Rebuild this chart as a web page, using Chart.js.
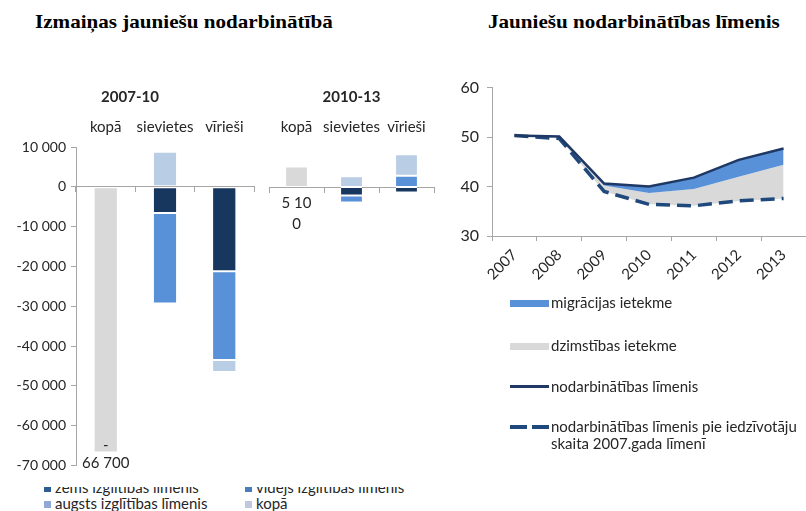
<!DOCTYPE html>
<html>
<head>
<meta charset="utf-8">
<script src="https://cdn.jsdelivr.net/npm/chart.js@4.4.0/dist/chart.umd.min.js"></script>
<style>
  body { margin:0; width:806px; height:511px; background:#fff; position:relative; overflow:hidden;
         font-family:Lato, "Noto Sans", sans-serif; color:#262626; }
  .title { position:absolute; top:11px; font:bold 19px "Liberation Serif", "Times New Roman", serif; color:#000;
           white-space:nowrap; transform:scaleX(1.11); transform-origin:left top; }
  canvas { position:absolute; }
  .leg { position:absolute; white-space:nowrap; font-size:15px; line-height:17px; }
  .sw { position:absolute; }
  #barLegend { position:absolute; left:0; top:487px; width:430px; height:24px; overflow:hidden; }
  #barLegend .row { position:absolute; white-space:nowrap; font-size:15px; line-height:16px; }
  #barLegend .sq { display:inline-block; width:7px; height:7px; margin-right:4px; vertical-align:1px; }
</style>
</head>
<body>
<div class="title" style="left:35px">Izmaiņas jauniešu nodarbinātībā</div>
<div class="title" style="left:488px">Jauniešu nodarbinātības līmenis</div>

<canvas id="bar1" width="258" height="399" style="left:0;top:80px"></canvas>
<canvas id="bar2" width="180" height="399" style="left:262px;top:80px"></canvas>
<canvas id="line" width="366" height="211" style="left:440px;top:70px"></canvas>

<div id="barLegend"></div>
<div id="lineLegend"></div>

<script>
// ── Data: bar panels ──────────────────────────────────────────
const barCategories = ['kopā', 'sievietes', 'vīrieši'];
const barPeriods    = ['2007-10', '2010-13'];
const barSeries     = ['zems izglītības līmenis', 'vidējs izglītības līmenis', 'augsts izglītības līmenis', 'kopā'];
const barTicks      = [10000, 0, -10000, -20000, -30000, -40000, -50000, -60000, -70000];

// 2007-10
const zems0710   = [null,  -6600, -21200];
const videjs0710 = [null, -22700, -22300];
const augsts0710 = [null,   8800,  -3000];
const kopa0710   = [-66700, null,   null];
// 2010-13
const zems1013   = [null, -2100, -1400];
const videjs1013 = [null, -1800,  2800];
const augsts1013 = [null,  2700,  5400];
const kopa1013   = [5100,  null,  null];

const kopaLabel0710 = ['-', '66 700'];
const kopaLabel1013 = ['5 10', '0'];

// ── Data: line panel ──────────────────────────────────────────
const years          = ['2007', '2008', '2009', '2010', '2011', '2012', '2013'];
const lvlActual      = [50.3, 50.1, 40.6, 40.0, 41.8, 45.4, 47.7];
const lvlNoMigration = [50.3, 50.1, 40.2, 38.7, 39.5, 42.0, 44.4];
const lvl2007Pop     = [50.3, 49.7, 39.0, 36.4, 36.1, 37.1, 37.6];
const lineTicks      = [30, 40, 50, 60];
const lineSeries     = ['migrācijas ietekme', 'dzimstības ietekme', 'nodarbinātības līmenis',
                        'nodarbinātības līmenis pie iedzīvotāju skaita 2007.gada līmenī'];

// ── Colours ───────────────────────────────────────────────────
const NAVY   = '#17375e';
const MID    = '#5891d8';
const LIGHT  = '#b9cde5';
const GREY   = '#d9d9d9';
const AXIS   = '#a6a6a6';
const TEXT   = '#262626';
const barLegendColors = ['#2f5c8f', '#4a7ebb', '#8fa8d8', '#c0c8e0'];

const fmt = (v) => (v < 0 ? '-' : '') + String(Math.abs(v)).replace(/\B(?=(\d{3})+(?!\d))/g, ' ');

// ── Plugin: text under the kopā bar ───────────────────────────
const barNotes = {
  id: 'barNotes',
  afterDatasetsDraw(chart, args, opts) {
    const bar = chart.getDatasetMeta(opts.dataset).data[opts.index];
    const y0  = chart.scales.y.getPixelForValue(opts.anchor);
    const ctx = chart.ctx;
    ctx.save();
    ctx.font = '15px Lato';
    ctx.fillStyle = TEXT;
    ctx.textAlign = 'center';
    ctx.textBaseline = 'middle';
    opts.lines.forEach((t, i) => ctx.fillText(t, bar.x, y0 + opts.offsets[i]));
    ctx.restore();
  },
};

// ── Bar panels ────────────────────────────────────────────────
const makeBarChart = (id, period, zems, videjs, augsts, kopa, notes, showY, pad) => {
  const colors = [NAVY, MID, LIGHT, GREY];
  const values = [zems, videjs, augsts, kopa];
  return new Chart(document.getElementById(id), {
    type: 'bar',
    data: {
      labels: barCategories,
      datasets: barSeries.map((name, i) => ({
        label:           name,
        data:            values[i],
        backgroundColor: colors[i],
        borderColor:     '#ffffff',
        borderWidth:     { top: 1, bottom: 1, left: 0, right: 0 },
        borderSkipped:   false,
        barPercentage:   0.38,
        categoryPercentage: 1,
      })),
    },
    options: {
      responsive: false,
      animation:  false,
      layout: { padding: pad },
      plugins: {
        legend:  { display: false },
        tooltip: { enabled: false },
        title: {
          display: true,
          text:    period,
          color:   TEXT,
          font:    { family: 'Lato', size: 15, weight: 'bold' },
          padding: { top: 8, bottom: 13 },
        },
        barNotes: notes,
      },
      scales: {
        x: {
          stacked:  true,
          position: { y: 0 },
          offset:   true,
          ticks:    { display: false },
          grid:     { drawOnChartArea: false, offset: true, tickLength: 5, color: AXIS },
          border:   { color: AXIS },
        },
        xTop: {
          type:     'category',
          labels:   barCategories,
          position: 'top',
          offset:   true,
          afterFit: (s) => { s.height = 28; },
          grid:     { display: false, drawTicks: false },
          border:   { display: false },
          ticks:    { padding: 11, minRotation: 0, maxRotation: 0, autoSkip: false,
                      color: TEXT, font: { family: 'Lato', size: 15 } },
        },
        y: {
          display: showY,
          stacked: true,
          min: -70000,
          max: 10000,
          afterBuildTicks: (s) => { s.ticks = barTicks.map(v => ({ value: v })); },
          afterFit:        (s) => { s.width = showY ? 70 : 0; },
          ticks:  { callback: fmt, color: TEXT, font: { family: 'Lato', size: 14 }, padding: 5 },
          grid:   { drawOnChartArea: false, tickLength: 5, color: AXIS },
          border: { color: AXIS },
        },
      },
    },
    plugins: [barNotes],
  });
};

makeBarChart('bar1', barPeriods[0], zems0710, videjs0710, augsts0710, kopa0710,
  { dataset: 3, index: 0, anchor: -66700, lines: kopaLabel0710, offsets: [-7, 11] },
  true, { left: 6, right: 4, top: 0, bottom: 12 });

makeBarChart('bar2', barPeriods[1], zems1013, videjs1013, augsts1013, kopa1013,
  { dataset: 3, index: 0, anchor: 0, lines: kopaLabel1013, offsets: [16, 37] },
  false, { left: 7, right: 8, top: 0, bottom: 12 });

// ── Line panel ────────────────────────────────────────────────
new Chart(document.getElementById('line'), {
  type: 'line',
  data: {
    labels: years,
    datasets: [
      {
        label:           lineSeries[2],
        data:            lvlActual,
        borderColor:     '#1f3864',
        borderWidth:     2.5,
        backgroundColor: MID,
        fill:            1,
        pointRadius:     0,
        order:           0,
      },
      {
        label:           lineSeries[1],
        data:            lvlNoMigration,
        borderColor:     'rgba(0,0,0,0)',
        borderWidth:     0,
        backgroundColor: GREY,
        fill:            2,
        pointRadius:     0,
        order:           2,
      },
      {
        label:       lineSeries[3],
        data:        lvl2007Pop,
        borderColor: '#1f497d',
        borderWidth: 3.5,
        borderDash:  [14, 7],
        fill:        false,
        pointRadius: 0,
        order:       1,
      },
    ],
  },
  options: {
    responsive: false,
    animation:  false,
    layout: { padding: { top: 12, left: 0, right: 0, bottom: 0 } },
    plugins: { legend: { display: false }, tooltip: { enabled: false } },
    scales: {
      x: {
        offset:   true,
        afterFit: (s) => { s.height = 45; },
        ticks:    { minRotation: 45, maxRotation: 45, padding: 5, color: TEXT, font: { family: 'Lato', size: 15 } },
        grid:     { drawOnChartArea: false, offset: true, tickLength: 5, color: AXIS },
        border:   { color: AXIS },
      },
      y: {
        min: 30,
        max: 60,
        afterBuildTicks: (s) => { s.ticks = lineTicks.map(v => ({ value: v })); },
        afterFit:        (s) => { s.width = 52; },
        ticks:  { color: TEXT, font: { family: 'Lato', size: 16 }, padding: 8 },
        grid:   { drawOnChartArea: false, tickLength: 5, color: AXIS },
        border: { color: AXIS },
      },
    },
  },
});

// ── Legends (HTML) ────────────────────────────────────────────
const barLegend = document.getElementById('barLegend');
const legPos = [[44, -8], [245, -8], [44, 8], [245, 8]];
barSeries.forEach((name, i) => {
  const row = document.createElement('div');
  row.className = 'row';
  row.style.left = legPos[i][0] + 'px';
  row.style.top  = legPos[i][1] + 'px';
  row.innerHTML = `<span class="sq" style="background:${barLegendColors[i]}"></span>${name}`;
  barLegend.appendChild(row);
});

const lineLegend = document.getElementById('lineLegend');
const addSw = (css) => {
  const d = document.createElement('div');
  d.className = 'sw';
  d.style.cssText += css;
  lineLegend.appendChild(d);
};
const addText = (text, left, top) => {
  const d = document.createElement('div');
  d.className = 'leg';
  d.style.left = left + 'px';
  d.style.top  = top + 'px';
  d.innerHTML = text;
  lineLegend.appendChild(d);
};
addSw(`left:510px;top:300px;width:39px;height:7px;background:${MID}`);
addText(lineSeries[0], 551, 294);
addSw(`left:510px;top:343px;width:39px;height:7px;background:${GREY}`);
addText(lineSeries[1], 551, 337);
addSw('left:510px;top:385px;width:39px;height:3px;background:#1f3864');
addText(lineSeries[2], 551, 378);
addSw('left:510px;top:425px;width:17px;height:4px;background:#1f497d');
addSw('left:532px;top:425px;width:17px;height:4px;background:#1f497d');
addText(lineSeries[3].replace(' skaita', '<br>skaita'), 551, 418);
</script>
</body>
</html>
